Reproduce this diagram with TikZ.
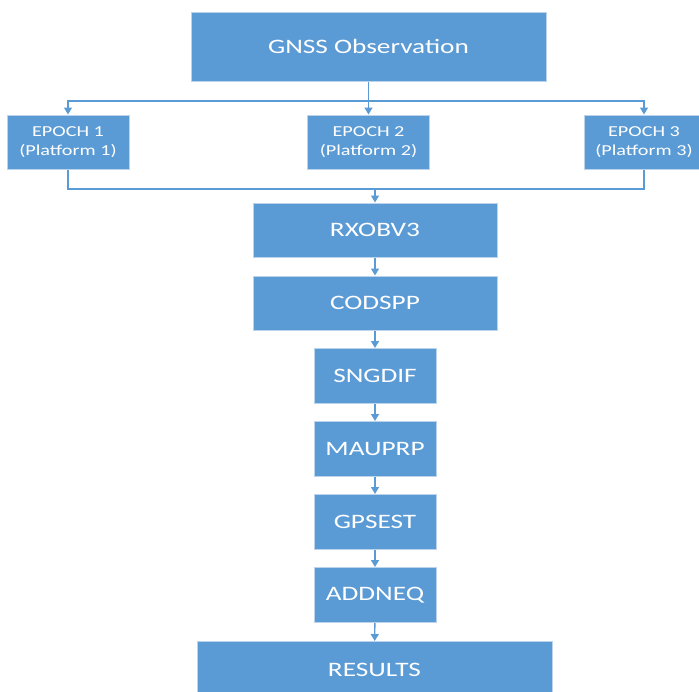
\documentclass[tikz,border=0pt]{standalone}
\usepackage{fontspec}
\setmainfont[FakeStretch=1.33]{Carlito}
\usetikzlibrary{arrows.meta}
\definecolor{boxblue}{HTML}{5B9BD5}
\definecolor{boxedge}{HTML}{BCD3EC}
\begin{document}
\begin{tikzpicture}[x=1pt,y=-1pt,
  box/.style={draw=boxedge,line width=1pt,fill=boxblue,text=white,inner sep=0pt,
    align=center,font=\fontsize{20.5}{24}\selectfont},
  small/.style={font=\fontsize{15.2}{19.5}\selectfont},
  link/.style={draw=boxblue,line width=1.4pt},
  arr/.style={link,-{Triangle[width=8pt,length=7pt]}}]
\useasboundingbox (0,0) rectangle (699,691);
\node[box,minimum width=355pt,minimum height=69pt] (gnss) at (368.5,46.5) {GNSS Observation};
\node[box,small,minimum width=122pt,minimum height=54pt] (e1) at (68,142) {EPOCH 1\\(Platform 1)};
\node[box,small,minimum width=122pt,minimum height=54pt] (e2) at (368.5,142) {EPOCH 2\\(Platform 2)};
\node[box,small,minimum width=120pt,minimum height=54pt] (e3) at (644,142) {EPOCH 3\\(Platform 3)};
\node[box,minimum width=244pt,minimum height=54pt] (rx) at (375,230) {RXOBV3};
\node[box,minimum width=244pt,minimum height=54pt] (cod) at (375,303) {CODSPP};
\node[box,minimum width=122pt,minimum height=55pt] (sng) at (375,376) {SNGDIF};
\node[box,minimum width=122pt,minimum height=55pt] (mau) at (375,449) {MAUPRP};
\node[box,minimum width=122pt,minimum height=55pt] (gps) at (375,522) {GPSEST};
\node[box,minimum width=122pt,minimum height=55pt] (add) at (375,595) {ADDNEQ};
\node[box,minimum width=355pt,minimum height=69pt,anchor=north] (res) at (374.5,641) {\raisebox{13pt}{RESULTS}};
\coordinate (split) at (368.5,101);
\coordinate (merge) at (375,189);
\draw[link] (gnss.south) -- (split);
\draw[arr] (split) -| (e1.north);
\draw[arr] (split) -| (e3.north);
\draw[arr] (gnss.south) -- (e2.north);
\draw[link] (e1.south) |- (merge);
\draw[link] (e3.south) |- (merge);
\draw[arr] (merge) -- (rx.north);
\draw[arr] (rx) -- (cod);
\draw[arr] (cod) -- (sng);
\draw[arr] (sng) -- (mau);
\draw[arr] (mau) -- (gps);
\draw[arr] (gps) -- (add);
\draw[arr] (add) -- (res);
\end{tikzpicture}
\end{document}
